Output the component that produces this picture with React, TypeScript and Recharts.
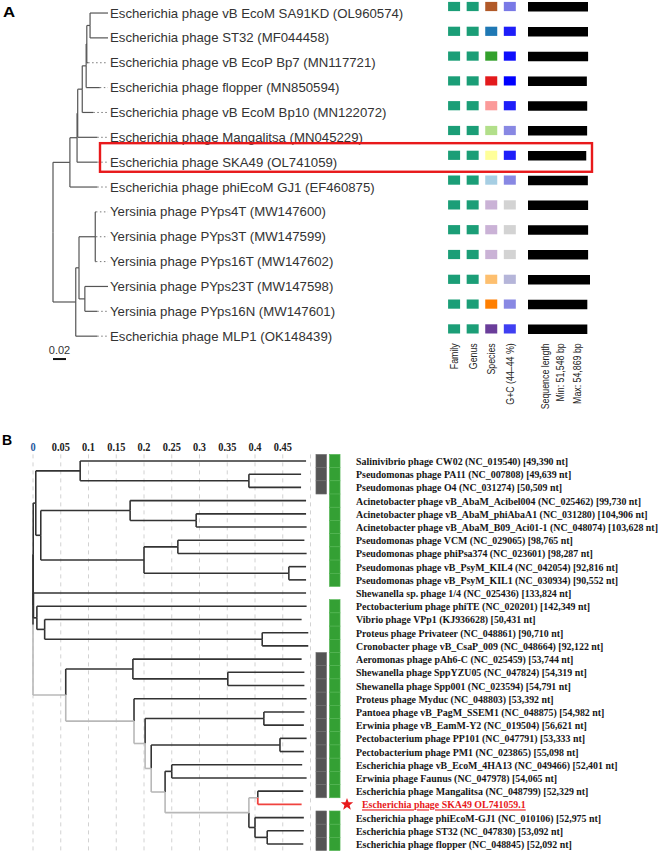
import React from 'react';
import {
  ComposedChart,
  ScatterChart,
  BarChart,
  Scatter,
  Bar,
  XAxis,
  YAxis,
  CartesianGrid,
  ReferenceLine,
  Label,
} from 'recharts';

// ---------- Panel A : whole-genome tree of 14 phages ----------
const phagesA = [
  'Escherichia phage vB EcoM SA91KD (OL960574)',
  'Escherichia phage ST32 (MF044458)',
  'Escherichia phage vB EcoP Bp7 (MN117721)',
  'Escherichia phage flopper (MN850594)',
  'Escherichia phage vB EcoM Bp10 (MN122072)',
  'Escherichia phage Mangalitsa (MN045229)',
  'Escherichia phage SKA49 (OL741059)',
  'Escherichia phage phiEcoM GJ1 (EF460875)',
  'Yersinia phage PYps4T (MW147600)',
  'Yersinia phage PYps3T (MW147599)',
  'Yersinia phage PYps16T (MW147602)',
  'Yersinia phage PYps23T (MW147598)',
  'Yersinia phage PYps16N (MW147601)',
  'Escherichia phage MLP1 (OK148439)',
];
// distance from root to each tip
const tipsA = [0.0846, 0.0846, 0.054, 0.072, 0.062, 0.068, 0.068, 0.068, 0.066, 0.066, 0.066, 0.0846, 0.068, 0.068];
// internal nodes, children first: [id, distance from root, children (row number or node id)]
const nodesA: [string, number, (string | number)[]][] = [
  ['a12', 0.057, [1, 2]],
  ['a3', 0.052, ['a12', 3]],
  ['a4', 0.051, ['a3', 4]],
  ['a5', 0.045, ['a4', 5]],
  ['a6', 0.038, ['a5', 6]],
  ['a7', 0.037, ['a6', 7]],
  ['aEsc', 0.026, ['a7', 8]],
  ['aY2', 0.065, [9, 10, 11]],
  ['aY3', 0.049, [12, 13]],
  ['aY1', 0.04, ['aY2', 'aY3']],
  ['aY', 0.035, ['aY1', 14]],
  ['rootA', 0, ['aEsc', 'aY']],
];
const alignA = 0.0846;
const scaleBarA = 0.02;

const heatColsA = ['Family', 'Genus', 'Species', 'G+C (44–44 %)'];
const familyA = [0, 0, 0, 0, 0, 0, 0, 0, 0, 0, 0, 0, 0, 0];
const genusA = [0, 0, 0, 0, 0, 0, 0, 0, 0, 0, 0, 0, 0, 0];
const speciesA = [0, 1, 2, 3, 4, 5, 6, 7, 8, 8, 8, 9, 10, 11];
const gcA = [44.0, 44.3, 44.35, 44.4, 44.3, 43.95, 44.3, 43.95, 43.7, 43.7, 43.7, 43.8, 43.95, 44.19];
const lengthA = [53100, 53092, 53200, 52092, 52400, 52329, 51548, 52975, 53200, 53200, 53200, 54869, 52500, 52500];
const lengthMin = 51548;
const lengthMax = 54869;

// ---------- Panel B : dendrogram of 30 phages ----------
const phagesB = [
  'Salinivibrio phage CW02 (NC_019540) [49,390 nt]',
  'Pseudomonas phage PA11 (NC_007808) [49,639 nt]',
  'Pseudomonas phage O4 (NC_031274) [50,509 nt]',
  'Acinetobacter phage vB_AbaM_Acibel004 (NC_025462) [99,730 nt]',
  'Acinetobacter phage vB_AbaM_phiAbaA1 (NC_031280) [104,906 nt]',
  'Acinetobacter phage vB_AbaM_B09_Aci01-1 (NC_048074) [103,628 nt]',
  'Pseudomonas phage VCM (NC_029065) [98,765 nt]',
  'Pseudomonas phage phiPsa374 (NC_023601) [98,287 nt]',
  'Pseudomonas phage vB_PsyM_KIL4 (NC_042054) [92,816 nt]',
  'Pseudomonas phage vB_PsyM_KIL1 (NC_030934) [90,552 nt]',
  'Shewanella sp. phage 1/4 (NC_025436) [133,824 nt]',
  'Pectobacterium phage phiTE (NC_020201) [142,349 nt]',
  'Vibrio phage VPp1 (KJ936628) [50,431 nt]',
  'Proteus phage Privateer (NC_048861) [90,710 nt]',
  'Cronobacter phage vB_CsaP_009 (NC_048664) [92,122 nt]',
  'Aeromonas phage pAh6-C (NC_025459) [53,744 nt]',
  'Shewanella phage SppYZU05 (NC_047824) [54,319 nt]',
  'Shewanella phage Spp001 (NC_023594) [54,791 nt]',
  'Proteus phage Myduc (NC_048803) [53,392 nt]',
  'Pantoea phage vB_PagM_SSEM1 (NC_048875) [54,982 nt]',
  'Erwinia phage vB_EamM-Y2 (NC_019504) [56,621 nt]',
  'Pectobacterium phage PP101 (NC_047791) [53,333 nt]',
  'Pectobacterium phage PM1 (NC_023865) [55,098 nt]',
  'Escherichia phage vB_EcoM_4HA13 (NC_049466) [52,401 nt]',
  'Erwinia phage Faunus (NC_047978) [54,065 nt]',
  'Escherichia phage Mangalitsa (NC_048799) [52,329 nt]',
  'Escherichia phage SKA49 OL741059.1',
  'Escherichia phage phiEcoM-GJ1 (NC_010106) [52,975 nt]',
  'Escherichia phage ST32 (NC_047830) [53,092 nt]',
  'Escherichia phage flopper (NC_048845) [52,092 nt]',
];
const tipsB = [
  0.492, 0.483, 0.483, 0.492, 0.492, 0.493, 0.489, 0.493, 0.492, 0.492,
  0.492, 0.493, 0.484, 0.496, 0.496, 0.484, 0.489, 0.489, 0.493, 0.489,
  0.488, 0.493, 0.488, 0.485, 0.493, 0.487, 0.484, 0.488, 0.488, 0.487,
];
const nodesB: [string, number, (string | number)[]][] = [
  ['b23', 0.389, [2, 3]],
  ['c1', 0.085, [1, 'b23']],
  ['b56', 0.294, [5, 6]],
  ['bB1', 0.175, [4, 'b56']],
  ['b78', 0.261, [7, 8]],
  ['b910', 0.461, [9, 10]],
  ['bB2', 0.2, ['b78', 'b910']],
  ['c2', 0.014, ['bB1', 'bB2']],
  ['r1', 0.005, ['c1', 'c2']],
  ['b1415', 0.413, [14, 15]],
  ['c3a', 0.021, [13, 'b1415']],
  ['c3b', 0.007, [12, 'c3a']],
  ['x11', 0.0008, [11, 'c3b']],
  ['u', 0.0004, ['r1', 'x11']],
  ['b1718', 0.351, [17, 18]],
  ['da', 0.18, [16, 'b1718']],
  ['fa', 0.416, [20, 21]],
  ['ga', 0.445, [22, 23]],
  ['ha', 0.25, [24, 25]],
  ['ia', 0.405, [26, 27]],
  ['ic', 0.422, [29, 30]],
  ['ib', 0.4, [28, 'ic']],
  ['i', 0.389, ['ia', 'ib']],
  ['h', 0.238, ['ha', 'i']],
  ['g', 0.213, ['ga', 'h']],
  ['f', 0.202, ['fa', 'g']],
  ['e', 0.182, [19, 'f']],
  ['d', 0.059, ['da', 'e']],
  ['rootB', 0, ['u', 'd']],
];
const lineageB = ['d', 'e', 'f', 'g', 'h', 'i', 'ia'];
const focusB = 27;
const ticksB = [0, 0.05, 0.1, 0.15, 0.2, 0.25, 0.3, 0.35, 0.4, 0.45];
const colsB = ['Cluster', 'Host'];
const clusterB = [1, 1, 1, 0, 0, 0, 0, 0, 0, 0, 0, 0, 0, 0, 0, 1, 1, 1, 1, 1, 1, 1, 1, 1, 1, 1, 0, 1, 1, 1];
const hostB = [1, 1, 1, 1, 1, 1, 1, 1, 1, 1, 0, 1, 1, 1, 1, 1, 1, 1, 1, 1, 1, 1, 1, 1, 1, 1, 0, 1, 1, 1];

// ---------- styling ----------
const SANS = '"Liberation Sans", Arial, sans-serif';
const SERIF = '"Liberation Serif", "Times New Roman", serif';
const TEAL = '#1b9e77';
const SPECIES_COLORS = ['#b15928', '#1f78b4', '#33a02c', '#e31a1c', '#fb9a99', '#b2df8a', '#ffff99', '#a6cee3', '#cab2d6', '#fdbf6f', '#ff7f00', '#6a3d9a'];
const TONE = {
  base: { stroke: '#333333', width: 1.6 },
  lineage: { stroke: '#b8b8b8', width: 1.6 },
  focus: { stroke: '#f0433f', width: 1.8 },
};

const gcColor = (v: number) => {
  const lo = Math.min(...gcA);
  const hi = Math.max(...gcA);
  const t = (v - lo) / (hi - lo);
  const c = Math.round(211 * (1 - t));
  const b = Math.round(211 + 44 * t);
  return `rgb(${c},${c},${b})`;
};

type Seg = { x1: number; y1: number; x2: number; y2: number; tone: 'base' | 'lineage' | 'focus' };

function layoutTree(nodes: [string, number, (string | number)[]][], tips: number[], lineage: string[], focus: number) {
  const pos: Record<string, { x: number; y: number }> = {};
  const key = (c: string | number) => (typeof c === 'number' ? `L${c}` : c);
  tips.forEach((d, i) => (pos[`L${i + 1}`] = { x: d, y: i + 1 }));
  nodes.forEach(([id, d, kids]) => {
    const ys = kids.map((k) => pos[key(k)].y);
    pos[id] = { x: d, y: (ys[0] + ys[ys.length - 1]) / 2 };
  });
  const segs: Seg[] = [];
  nodes.forEach(([id, , kids]) => {
    const p = pos[id];
    kids.forEach((k) => {
      const c = pos[key(k)];
      const tone = k === focus ? 'focus' : lineage.includes(key(k)) ? 'lineage' : 'base';
      segs.push({ x1: p.x, y1: p.y, x2: p.x, y2: c.y, tone });
      segs.push({ x1: p.x, y1: c.y, x2: c.x, y2: c.y, tone });
    });
  });
  const order = { base: 0, lineage: 1, focus: 2 };
  return segs.sort((a, b) => order[a.tone] - order[b.tone]);
}

const segsA = layoutTree(nodesA, tipsA, [], -1);
const segsB = layoutTree(nodesB, tipsB, lineageB, focusB);
const leavesA = tipsA.map((d, i) => ({ x: d, y: i + 1 }));
const leavesB = tipsB.map((d, i) => ({ x: d, y: i + 1 }));
const rowTicksA = phagesA.map((_, i) => i + 1);
const rowTicksB = phagesB.map((_, i) => i + 1);

const heatA = heatColsA.flatMap((col, c) =>
  phagesA.map((_, i) => {
    let fill = TEAL;
    if (c === 0) fill = familyA[i] === 0 ? TEAL : '#999';
    if (c === 1) fill = genusA[i] === 0 ? TEAL : '#999';
    if (c === 2) fill = SPECIES_COLORS[speciesA[i]];
    if (c === 3) fill = gcColor(gcA[i]);
    return { col, row: i + 1, fill };
  })
);
const barsA = phagesA.map((name, i) => ({ name, len: lengthA[i] }));

const heatB = colsB.flatMap((col, c) =>
  phagesB
    .map((_, i) => ({ col, row: i + 1, on: (c === 0 ? clusterB : hostB)[i] }))
    .filter((d) => d.on === 1)
);

// ---------- custom renderers ----------
const LabelTickA = ({ x, y, payload }: any) => (
  <text x={x + 2} y={y + 4.6} fontFamily={SANS} fontSize={13.2} fill="#333">
    {phagesA[payload.value - 1]}
  </text>
);

const ColTickA = ({ x, y, payload }: any) => (
  <g transform={`translate(${x},${y + 2}) rotate(-90) scale(0.8,1)`}>
    <text textAnchor="end" dominantBaseline="central" fontFamily={SANS} fontSize={11} fill="#222">
      {payload.value}
    </text>
  </g>
);

const LengthLabels = ({ viewBox }: any) => {
  const texts = ['Sequence length', `Min: ${lengthMin.toLocaleString('en-US')} bp`, `Max: ${lengthMax.toLocaleString('en-US')} bp`];
  const dx = [17, 32, 49];
  return (
    <g>
      {texts.map((t, i) => (
        <g key={t} transform={`translate(${viewBox.x + dx[i]},${viewBox.y + 2}) rotate(-90) scale(0.8,1)`}>
          <text textAnchor="end" dominantBaseline="central" fontFamily={SANS} fontSize={11} fill="#222">
            {t}
          </text>
        </g>
      ))}
    </g>
  );
};

const AxisTickB = ({ x, y, payload }: any) => (
  <g transform={`translate(${x},${y - 3.5}) scale(0.9,1)`}>
    <text textAnchor="middle" fontFamily={SERIF} fontWeight="bold" fontSize={11.5} fill={payload.value === 0 ? '#2a5aa0' : '#222'}>
      {String(payload.value)}
    </text>
  </g>
);

const starPath = (cx: number, cy: number, r: number) => {
  const pts: string[] = [];
  for (let k = 0; k < 10; k++) {
    const rad = k % 2 === 0 ? r : r * 0.42;
    const a = -Math.PI / 2 + (k * Math.PI) / 5;
    pts.push(`${cx + rad * Math.cos(a)},${cy + rad * Math.sin(a)}`);
  }
  return `M${pts.join('L')}Z`;
};

const LabelTickB = ({ x, y, payload }: any) => {
  const row = payload.value;
  const focus = row === focusB;
  return (
    <g>
      {focus && <path d={starPath(x + 5.5, y, 6.5)} fill="#e8191b" />}
      <g transform={`translate(${x + (focus ? 20.5 : 14.5)},${y + 4}) scale(0.9,1)`}>
        <text
          fontFamily={SERIF}
          fontWeight="bold"
          fontSize={11}
          fill={focus ? '#e8191b' : '#161616'}
          textDecoration={focus ? 'underline' : undefined}
        >
          {phagesB[row - 1]}
        </text>
      </g>
    </g>
  );
};

const HeatCellA = (p: any) => (
  <rect x={p.cx - 6} y={p.cy - 4.6} width={12} height={9.2} fill={p.payload.fill} />
);

const HeatCellB = (p: any) => {
  const h = 396.2 / phagesB.length;
  const dark = p.payload.col === colsB[0];
  return (
    <rect
      x={p.cx - 5.3}
      y={p.cy - h / 2}
      width={10.6}
      height={h}
      fill={dark ? '#555555' : '#34a034'}
      stroke={dark ? '#707070' : '#52b552'}
      strokeWidth={0.6}
    />
  );
};

const Empty = () => <g />;

const A_ROW_TOP = 0.6;
const A_ROW_H = 348 / phagesA.length;
const boxRow = 7;

const App: React.FC = () => {
  return (
    <div style={{ position: 'absolute', left: 0, top: 0, width: 660, height: 855, background: '#fff', overflow: 'hidden' }}>
      {/* Panel A tree + labels */}
      <div style={{ position: 'absolute', left: 0, top: 0 }}>
        <ComposedChart width={470} height={372} margin={{ top: 0.6, right: 0, bottom: 23.4, left: 53 }}>
          <XAxis type="number" dataKey="x" domain={[0, alignA]} hide />
          <YAxis
            type="number"
            dataKey="y"
            orientation="right"
            domain={[0.5, phagesA.length + 0.5]}
            reversed
            ticks={rowTicksA}
            interval={0}
            width={362}
            axisLine={false}
            tickLine={false}
            tickSize={0}
            tickMargin={0}
            tick={<LabelTickA />}
          />
          <Scatter data={leavesA} shape={<Empty />} isAnimationActive={false} />
          {segsA.map((s, i) => (
            <ReferenceLine
              key={`a${i}`}
              segment={[{ x: s.x1, y: s.y1 }, { x: s.x2, y: s.y2 }]}
              stroke="#555"
              strokeWidth={1.2}
              ifOverflow="visible"
            />
          ))}
          {leavesA
            .filter((l) => l.x < alignA - 0.001)
            .map((l) => (
              <ReferenceLine
                key={`d${l.y}`}
                segment={[{ x: l.x, y: l.y }, { x: alignA, y: l.y }]}
                stroke="#777"
                strokeWidth={1}
                strokeDasharray="1.5 2.5"
                ifOverflow="visible"
              />
            ))}
          <ReferenceLine
            segment={[{ x: 0, y: 14.92 }, { x: scaleBarA, y: 14.92 }]}
            stroke="#111"
            strokeWidth={2}
            ifOverflow="visible"
            label={{ value: String(scaleBarA), position: 'top', offset: 5, fill: '#333', fontSize: 11, fontFamily: SANS }}
          />
        </ComposedChart>
      </div>

      {/* Panel A heat columns */}
      <div style={{ position: 'absolute', left: 430, top: -6 }}>
        <ScatterChart width={100} height={440} margin={{ top: 0.1, right: 10.9, bottom: 0, left: 14.8 }}>
          <XAxis
            type="category"
            dataKey="col"
            allowDuplicatedCategory={false}
            height={92.7}
            axisLine={false}
            tickLine={false}
            tickSize={0}
            tickMargin={0}
            interval={0}
            tick={<ColTickA />}
          />
          <YAxis type="number" dataKey="row" domain={[0.5, phagesA.length + 0.5]} reversed hide />
          <Scatter data={heatA} shape={<HeatCellA />} isAnimationActive={false} />
        </ScatterChart>
      </div>

      {/* Panel A sequence length bars */}
      <div style={{ position: 'absolute', left: 520, top: -6 }}>
        <BarChart layout="vertical" data={barsA} width={90} height={440} margin={{ top: 0.1, right: 20, bottom: 0, left: 8 }}>
          <XAxis type="number" domain={[0, lengthMax]} height={92.7} tick={false} axisLine={false} tickLine={false}>
            <Label content={<LengthLabels />} />
          </XAxis>
          <YAxis type="category" dataKey="name" hide />
          <Bar dataKey="len" fill="#000" barSize={9.5} isAnimationActive={false} />
        </BarChart>
      </div>

      {/* Panel B tree */}
      <div style={{ position: 'absolute', left: 0, top: 430 }}>
        <ComposedChart width={320} height={425} margin={{ top: 0, right: 9.5, bottom: 4.4, left: 33 }}>
          <CartesianGrid horizontal={false} stroke="#d2d2d2" strokeDasharray="4 4" />
          <XAxis
            type="number"
            dataKey="x"
            orientation="top"
            domain={[0, 0.5]}
            ticks={ticksB}
            interval={0}
            height={24.4}
            axisLine={false}
            tickLine={false}
            tickSize={0}
            tickMargin={0}
            tick={<AxisTickB />}
          />
          <YAxis type="number" dataKey="y" domain={[0.5, phagesB.length + 0.5]} reversed hide />
          <Scatter data={leavesB} shape={<Empty />} isAnimationActive={false} />
          {segsB.map((s, i) => (
            <ReferenceLine
              key={`b${i}`}
              segment={[{ x: s.x1, y: s.y1 }, { x: s.x2, y: s.y2 }]}
              stroke={TONE[s.tone].stroke}
              strokeWidth={TONE[s.tone].width}
              ifOverflow="visible"
            />
          ))}
        </ComposedChart>
      </div>

      {/* Panel B blocks + labels */}
      <div style={{ position: 'absolute', left: 300, top: 430 }}>
        <ScatterChart width={360} height={425} margin={{ top: 24.4, right: 0, bottom: 4.4, left: 14.5 }}>
          <XAxis type="category" dataKey="col" allowDuplicatedCategory={false} hide />
          <YAxis
            type="number"
            dataKey="row"
            orientation="right"
            domain={[0.5, phagesB.length + 0.5]}
            reversed
            ticks={rowTicksB}
            interval={0}
            width={318.5}
            axisLine={false}
            tickLine={false}
            tickSize={0}
            tickMargin={0}
            tick={<LabelTickB />}
          />
          <Scatter data={heatB} shape={<HeatCellB />} isAnimationActive={false} />
        </ScatterChart>
      </div>

      {/* panel letters and highlight box */}
      <svg width={660} height={855} style={{ position: 'absolute', left: 0, top: 0, pointerEvents: 'none' }}>
        <text x={3} y={17} fontFamily={SANS} fontWeight="bold" fontSize={14} transform="translate(3,0) scale(1.2,1) translate(-3,0)">
          A
        </text>
        <text x={2} y={445} fontFamily={SANS} fontWeight="bold" fontSize={14}>
          B
        </text>
        <rect
          x={100}
          y={A_ROW_TOP + (boxRow - 0.5) * A_ROW_H - 19}
          width={492}
          height={28.6}
          fill="none"
          stroke="#e8191b"
          strokeWidth={2.4}
        />
      </svg>
    </div>
  );
};

export default App;
